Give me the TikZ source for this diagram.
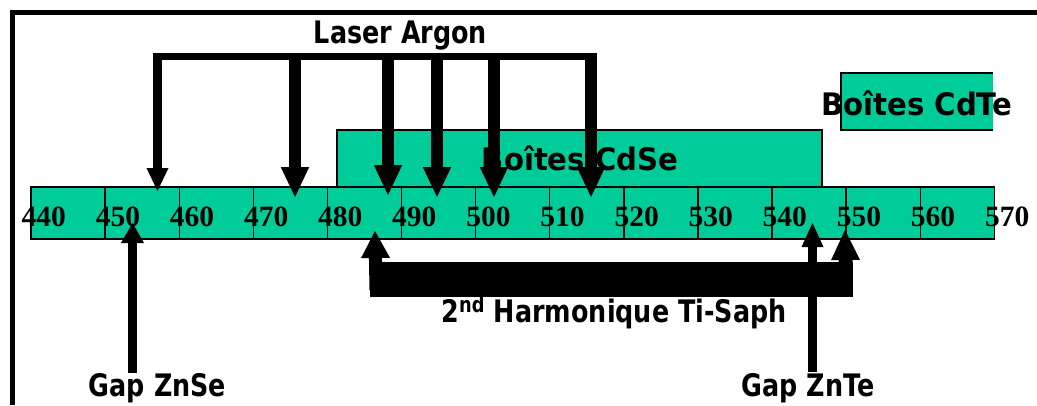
\documentclass[tikz,border=0pt]{standalone}
\usepackage{fontspec}
\setmainfont{Liberation Serif}
\newfontfamily\csn{DejaVu Sans}[FakeStretch=0.82]
\newfontfamily\csw{DejaVu Sans}[FakeStretch=0.94]
\usetikzlibrary{arrows.meta}
\definecolor{tealbox}{HTML}{00CC99}
\begin{document}
\begin{tikzpicture}[x=1pt,y=-1pt,
  box/.style={draw=black,line width=1.4pt,fill=tealbox,inner sep=0pt,outer sep=0pt,anchor=north west},
  num/.style={font=\bfseries\fontsize{29.5}{31}\selectfont,anchor=base west,inner sep=0pt},
  lbl/.style={font=\csn\bfseries\fontsize{31}{33}\selectfont,anchor=base,inner sep=0pt},
  lblw/.style={font=\csw\bfseries\fontsize{31}{33}\selectfont,anchor=base,inner sep=0pt},
  frameline/.style={line width=5pt},
  bar/.style={line width=#1,line cap=butt},
  bigarrow/.style n args={4}{line width=#1,-{Triangle[width=#2,length=#3,line width=0pt]},shorten <=#4}
]
\useasboundingbox (0,0) rectangle (1037,405);
% frame
\coordinate (fl) at (12.5,405);
\coordinate (ftl) at (12.5,12.5);
\coordinate (ftr) at (1037,12.5);
\draw[frameline] (fl) -- (ftl) -- (ftr);
% CdTe box
\fill[tealbox] (841,73) rectangle (993,130);
\draw[line width=1.4pt] (993,73) -- (841,73) -- (841,130) -- (993,130);
% CdSe box
\node[box,minimum width=485pt,minimum height=57pt] (cdse) at (337,130) {};
% scale boxes
\foreach \i in {0,...,12} {
  \node[box,minimum width=74.1pt,minimum height=52pt] (b\i) at ({31+74.1*\i},187) {};
}
\foreach \v [count=\i from 0] in {440,450,...,570} {
  \node[num] (n\v) at ({31+74.1*\i-9.5},226) {\v};
}
% texts
\node[lbl] (laser) at (400.5,43) {Laser Argon};
\node[lblw] (tcdse) at (580,170) {Boîtes CdSe};
\node[lblw] (tcdte) at (917,115) {Boîtes CdTe};
\node[lbl] (gznse) at (157.5,396) {Gap ZnSe};
\node[lbl] (gznte) at (808,396.5) {Gap ZnTe};
\node[lbl] (harm) at (614,322) {2\textsuperscript{nd} Harmonique Ti-Saph};
% laser argon bracket
\coordinate (lbL) at (153,56.5);
\coordinate (lbR) at (597,56.5);
\draw[bar=7pt] (lbL) -- (lbR);
\coordinate (s0) at (157.5,53); \coordinate (t0) at (157.5,191);
\draw[bigarrow={9pt}{22pt}{23pt}{0pt}] (s0) -- (t0);
\foreach \x/\t [count=\k] in {295/197,388/195,437/197,494/197,591/197} {
  \coordinate (s\k) at (\x,53);
  \coordinate (t\k) at (\x,\t);
  \draw[bigarrow={12.5pt}{28.5pt}{30pt}{0pt}] (s\k) -- (t\k);
}
% 2nd harmonic bracket
\coordinate (hL) at (370,279.5);
\coordinate (hR) at (853,279.5);
\draw[bar=35pt] (hL) -- (hR);
\coordinate (hs1) at (376,290); \coordinate (ht1) at (375,231);
\draw[bigarrow={13pt}{29pt}{27pt}{0pt}] (hs1) -- (ht1);
\coordinate (hs2) at (846,290); \coordinate (ht2) at (845,230);
\draw[bigarrow={14pt}{29pt}{30pt}{0pt}] (hs2) -- (ht2);
% gap arrows
\coordinate (gs1) at (132.5,373); \coordinate (gt1) at (132.5,223);
\draw[bigarrow={9pt}{23pt}{20pt}{0pt}] (gs1) -- (gt1);
\coordinate (gs2) at (812.5,372); \coordinate (gt2) at (812.5,223);
\draw[bigarrow={9pt}{22pt}{24pt}{0pt}] (gs2) -- (gt2);
\end{tikzpicture}
\end{document}
